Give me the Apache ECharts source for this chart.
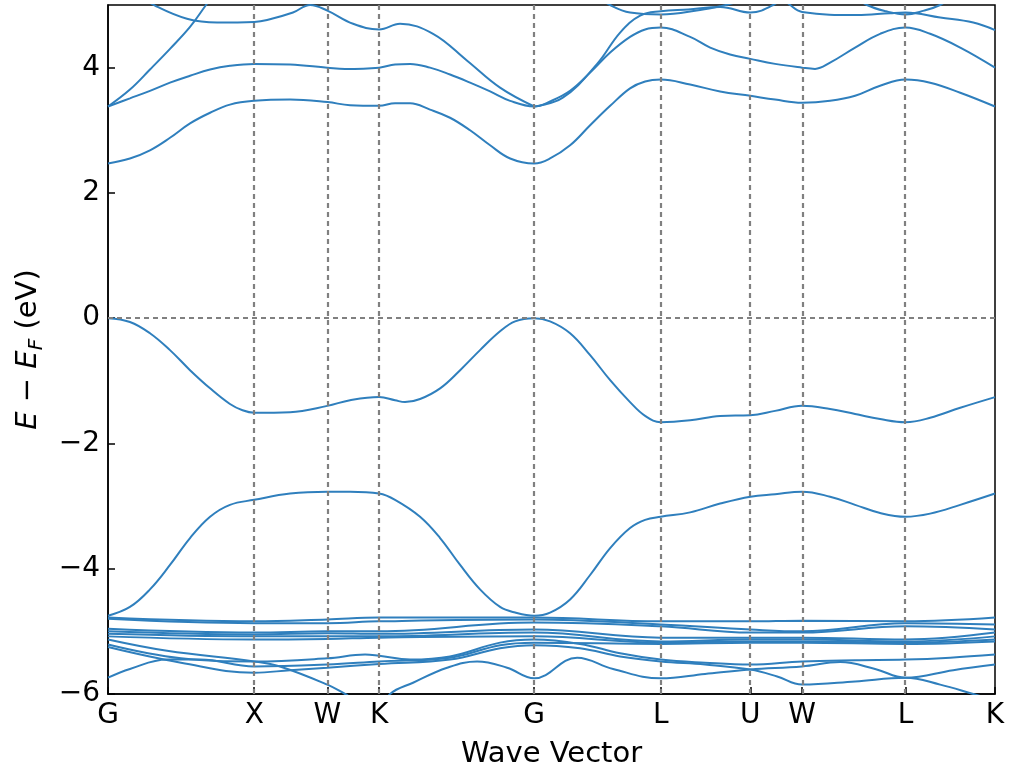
<!DOCTYPE html>
<html>
<head>
<meta charset="utf-8">
<script src="https://cdn.jsdelivr.net/npm/echarts@6/dist/echarts.min.js"></script>
<style>
  html, body { margin: 0; padding: 0; background: #fff; }
  #chart { width: 1013px; height: 779px; }
</style>
</head>
<body>
<div id="chart"></div>
<script>
// High-symmetry points along the k-path (cumulative path length)
const kTicks = [0, 1, 1.5, 1.8536, 2.9142, 3.7802, 4.3926, 4.7462, 5.4533, 6.0657];
const kLabels = ['G', 'X', 'W', 'K', 'G', 'L', 'U', 'W', 'L', 'K'];
const energyTicks = [-6, -4, -2, 0, 2, 4];

// Band energies [k, E - E_F] in eV
const valenceTop = [[0,0],[0.150,-0.06],[0.287,-0.24],[0.424,-0.51],[0.561,-0.83],[0.698,-1.12],[0.834,-1.37],[0.92,-1.47],[1,-1.51],[1.245,-1.50],[1.5,-1.40],[1.655,-1.31],[1.8536,-1.26],[1.963,-1.31],[2.031,-1.34],[2.134,-1.29],[2.271,-1.12],[2.408,-0.83],[2.544,-0.51],[2.681,-0.21],[2.784,-0.05],[2.9142,0],[3.023,-0.05],[3.160,-0.24],[3.297,-0.59],[3.434,-0.99],[3.570,-1.34],[3.673,-1.56],[3.7802,-1.66],[3.981,-1.63],[4.186,-1.56],[4.3926,-1.55],[4.562,-1.48],[4.7462,-1.40],[4.938,-1.45],[5.109,-1.53],[5.280,-1.61],[5.4533,-1.66],[5.622,-1.59],[5.828,-1.43],[6.0657,-1.26]];
const valenceSecond = [[0,-4.75],[0.150,-4.61],[0.287,-4.33],[0.424,-3.94],[0.561,-3.51],[0.698,-3.17],[0.834,-2.98],[1,-2.90],[1.245,-2.80],[1.5,-2.77],[1.655,-2.77],[1.8536,-2.80],[1.963,-2.90],[2.134,-3.17],[2.271,-3.51],[2.408,-3.94],[2.544,-4.33],[2.681,-4.61],[2.784,-4.70],[2.9142,-4.75],[3.023,-4.70],[3.160,-4.49],[3.297,-4.10],[3.434,-3.67],[3.570,-3.35],[3.673,-3.22],[3.7802,-3.17],[3.981,-3.10],[4.186,-2.96],[4.3926,-2.85],[4.562,-2.81],[4.7462,-2.77],[4.938,-2.85],[5.109,-2.98],[5.280,-3.11],[5.4533,-3.17],[5.622,-3.12],[5.828,-2.98],[6.0657,-2.80]];

const cond1 = [[0,2.47],[0.150,2.55],[0.287,2.68],[0.424,2.88],[0.561,3.11],[0.698,3.28],[0.834,3.41],[1,3.47],[1.245,3.49],[1.5,3.45],[1.655,3.40],[1.8536,3.39],[1.963,3.43],[2.066,3.43],[2.202,3.33],[2.339,3.20],[2.476,3.0],[2.613,2.76],[2.750,2.55],[2.9142,2.47],[3.023,2.55],[3.160,2.76],[3.297,3.08],[3.434,3.39],[3.570,3.67],[3.673,3.78],[3.7802,3.81],[3.981,3.73],[4.186,3.62],[4.3926,3.55],[4.562,3.49],[4.7462,3.44],[4.938,3.47],[5.109,3.55],[5.280,3.71],[5.4533,3.81],[5.622,3.76],[5.828,3.60],[6.0657,3.38]];
const cond2 = [[0,3.38],[0.150,3.51],[0.287,3.63],[0.424,3.76],[0.561,3.87],[0.698,3.97],[0.834,4.03],[1,4.06],[1.245,4.05],[1.5,4.0],[1.621,3.98],[1.8536,4.0],[1.963,4.05],[2.066,4.06],[2.202,4.0],[2.339,3.89],[2.476,3.76],[2.613,3.62],[2.750,3.47],[2.9142,3.38],[3.023,3.46],[3.160,3.63],[3.297,3.92],[3.434,4.24],[3.570,4.49],[3.673,4.61],[3.7802,4.64],[3.981,4.49],[4.118,4.32],[4.254,4.21],[4.3926,4.14],[4.562,4.06],[4.7462,4.0],[4.835,3.98],[4.938,4.08],[5.109,4.32],[5.280,4.54],[5.4533,4.64],[5.622,4.54],[5.828,4.32],[6.0657,4.0]];
const cond3 = [[0,3.38],[0.150,3.65],[0.287,3.97],[0.424,4.30],[0.561,4.65],[0.664,4.98],[0.732,5.2]];
const cond4 = [[0.218,5.15],[0.321,4.99],[0.540,4.78],[0.746,4.72],[1,4.73],[1.088,4.76],[1.265,4.88],[1.382,5.0],[1.5,4.91],[1.676,4.70],[1.8536,4.61],[1.997,4.70],[2.223,4.54],[2.456,4.11],[2.681,3.68],[2.9142,3.38]];
const cond5 = [[2.9142,3.38],[3.11,3.52],[3.345,4.06],[3.502,4.56],[3.639,4.83],[3.7802,4.90],[3.967,4.93],[4.186,4.97],[4.3926,4.88],[4.549,5.0],[4.65,5.2]];
const cond6 = [[3.30,5.2],[3.434,5.0],[3.57,4.88],[3.7802,4.85],[4.049,4.92],[4.186,4.98],[4.30,5.05],[4.40,5.15]];
const cond7 = [[4.60,5.15],[4.665,5.0],[4.7462,4.89],[5.123,4.84],[5.349,4.87],[5.4533,4.88],[5.691,4.80],[5.917,4.72],[6.0657,4.60]];
const cond8 = [[5.10,5.15],[5.19,5.0],[5.32,4.90],[5.4533,4.85],[5.58,4.91],[5.69,5.0],[5.76,5.12]];

// Flat d-like bands between -4.7 and -5.2 eV (values at each high-symmetry point)
const dBand1 = [-4.78, -4.84, -4.81, -4.78, -4.78, -4.84, -4.84, -4.83, -4.84, -4.78];
const dBand2 = [-4.80, -4.87, -4.87, -4.84, -4.81, -4.89, -4.97, -5.00, -4.87, -4.89];
const dBand3 = [-4.96, -5.02, -5.00, -5.00, -4.86, -4.92, -5.02, -5.02, -4.92, -4.97];
const dBand4 = [-5.00, -5.05, -5.03, -5.04, -4.97, -5.10, -5.10, -5.10, -5.13, -5.02];
const dBand5 = [-5.04, -5.08, -5.08, -5.08, -5.02, -5.16, -5.13, -5.13, -5.16, -5.08];
const dBand6 = [-5.08, -5.13, -5.12, -5.10, -5.08, -5.18, -5.16, -5.16, -5.18, -5.13];

const lowA = [[0,-5.21],[0.499,-5.43],[1,-5.48],[1.5,-5.43],[1.758,-5.37],[1.8536,-5.39],[2.066,-5.45],[2.339,-5.40],[2.681,-5.18],[2.9142,-5.13],[3.228,-5.20],[3.502,-5.35],[3.7802,-5.45],[4.083,-5.50],[4.3926,-5.53],[4.7462,-5.48],[5.109,-5.46],[5.4533,-5.45],[5.759,-5.42],[6.0657,-5.37]];
const lowB = [[0,-5.25],[0.499,-5.50],[1,-5.66],[1.245,-5.62],[1.5,-5.58],[1.8536,-5.52],[2.339,-5.45],[2.681,-5.27],[2.9142,-5.22],[3.228,-5.27],[3.502,-5.40],[3.7802,-5.48],[4.083,-5.53],[4.3926,-5.61],[4.576,-5.72],[4.7462,-5.85],[5.109,-5.80],[5.4533,-5.74],[5.691,-5.85],[5.917,-6.0],[6.0657,-6.1]];
const lowC = [[0,-5.74],[0.15,-5.60],[0.404,-5.45],[0.629,-5.45],[1,-5.56],[1.5,-5.53],[1.8536,-5.48],[2.339,-5.42],[2.681,-5.22],[2.9142,-5.18],[3.7802,-5.20],[4.3926,-5.18],[4.7462,-5.18],[5.4533,-5.20],[6.0657,-5.16]];
const lowSteep = [[0,-5.13],[0.404,-5.31],[1,-5.48],[1.176,-5.56],[1.5,-5.85],[1.621,-6.0],[1.8536,-6.3],[1.929,-6.0],[2.086,-5.82],[2.319,-5.58],[2.524,-5.48],[2.729,-5.58],[2.9142,-5.75],[3.208,-5.42],[3.454,-5.60],[3.7802,-5.75],[4.083,-5.68],[4.3926,-5.61],[4.7462,-5.56],[5.007,-5.49],[5.246,-5.60],[5.4533,-5.74],[5.78,-5.62],[6.0657,-5.53]];

const atKPoints = (energies) => energies.map((e, i) => [kTicks[i], e]);

const bands = [
  valenceTop, valenceSecond,
  cond1, cond2, cond3, cond4, cond5, cond6, cond7, cond8,
  atKPoints(dBand1), atKPoints(dBand2), atKPoints(dBand3),
  atKPoints(dBand4), atKPoints(dBand5), atKPoints(dBand6),
  lowA, lowB, lowC, lowSteep
];

const bandColor = '#2f7fbd';
const guideStyle = { color: '#808080', width: 2.2, type: [5, 4] };
const font = 'DejaVu Sans';

const series = bands.map((b) => ({
  type: 'line',
  data: b,
  showSymbol: false,
  smooth: 0.4,
  clip: true,
  silent: true,
  z: 3,
  lineStyle: { color: bandColor, width: 2 },
  emphasis: { disabled: true }
}));

// Dotted guides at interior high-symmetry points and at the Fermi level
series.push({
  type: 'line',
  data: [],
  silent: true,
  z: 2,
  markLine: {
    silent: true,
    symbol: ['none', 'none'],
    label: { show: false },
    lineStyle: guideStyle,
    emphasis: { disabled: true },
    data: kTicks.slice(1, -1).map(k => ({ xAxis: k, lineStyle: guideStyle }))
      .concat([{ yAxis: 0, lineStyle: guideStyle }])
  }
});

const chart = echarts.init(document.getElementById('chart'), null, { renderer: 'canvas' });
chart.setOption({
  animation: false,
  backgroundColor: '#fff',
  grid: {
    left: 108, right: 18, top: 5, bottom: 85,
    show: true, borderColor: '#000', borderWidth: 1.5, backgroundColor: 'transparent'
  },
  xAxis: {
    type: 'value',
    min: 0,
    max: kTicks[kTicks.length - 1],
    name: 'Wave Vector',
    nameLocation: 'middle',
    nameGap: 46,
    nameTextStyle: { fontFamily: font, fontSize: 29, color: '#000' },
    axisLine: { show: true, onZero: false, lineStyle: { color: '#000', width: 1.5 } },
    axisTick: { show: true, inside: true, length: 7, customValues: kTicks, lineStyle: { color: '#000', width: 1.5 } },
    axisLabel: {
      customValues: kTicks,
      margin: 8,
      fontFamily: font, fontSize: 28, color: '#000',
      formatter: (v) => {
        let best = 0;
        kTicks.forEach((k, i) => { if (Math.abs(k - v) < Math.abs(kTicks[best] - v)) best = i; });
        return kLabels[best];
      }
    },
    splitLine: { show: false }
  },
  yAxis: {
    type: 'value',
    min: -6,
    max: 5,
    name: '{i|E} − {i|E}{s|F} (eV)',
    nameLocation: 'middle',
    nameGap: 61,
    nameTextStyle: {
      fontFamily: font, fontSize: 29, color: '#000',
      rich: {
        i: { fontFamily: font, fontSize: 29, fontStyle: 'italic', color: '#000', lineHeight: 38, verticalAlign: 'middle' },
        s: { fontFamily: font, fontSize: 20, fontStyle: 'italic', color: '#000', lineHeight: 38, verticalAlign: 'bottom' }
      }
    },
    axisLine: { show: true, onZero: false, lineStyle: { color: '#000', width: 1.5 } },
    axisTick: { show: true, inside: true, length: 7, customValues: energyTicks, lineStyle: { color: '#000', width: 1.5 } },
    axisLabel: {
      customValues: energyTicks,
      margin: 8,
      fontFamily: font, fontSize: 28, color: '#000',
      formatter: (v) => (v < 0 ? '\u2212' + Math.abs(v) : String(v))
    },
    splitLine: { show: false }
  },
  series: series
});
</script>
</body>
</html>
